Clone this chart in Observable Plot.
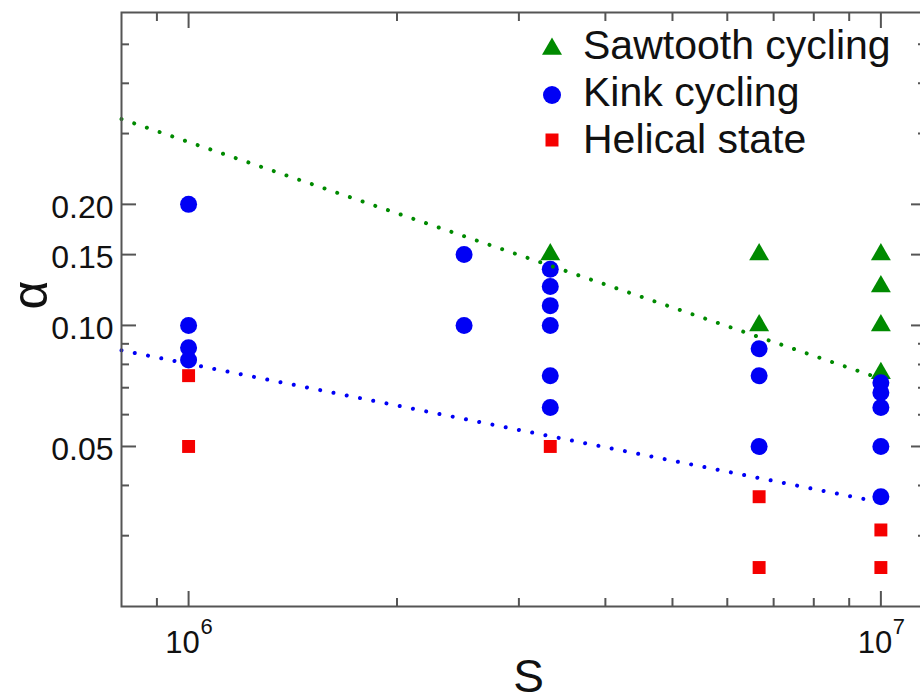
<!DOCTYPE html>
<html>
<head>
<meta charset="utf-8">
<script src="https://cdn.jsdelivr.net/npm/d3@7"></script>
<script src="https://cdn.jsdelivr.net/npm/@observablehq/plot@0.6"></script>
<style>
  html, body { margin: 0; padding: 0; background: #fff; overflow: hidden; }
  #wrap { position: relative; width: 920px; height: 700px; overflow: hidden; }
  #wrap svg { max-width: none !important; }
  #legend { position: absolute; left: 0; top: 0; }
</style>
</head>
<body>
<div id="wrap"></div>
<script>
// ---- data ----
const sawtoothS = [3.33e6, 6.67e6, 6.67e6, 1e7, 1e7, 1e7, 1e7];
const sawtoothA = [0.15, 0.15, 0.10, 0.15, 0.125, 0.10, 0.076];

const kinkS = [1e6, 1e6, 1e6, 1e6,
               2.5e6, 2.5e6,
               3.33e6, 3.33e6, 3.33e6, 3.33e6, 3.33e6, 3.33e6,
               6.67e6, 6.67e6, 6.67e6,
               1e7, 1e7, 1e7, 1e7, 1e7];
const kinkA = [0.20, 0.10, 0.088, 0.082,
               0.15, 0.10,
               0.138, 0.125, 0.112, 0.10, 0.075, 0.0625,
               0.0875, 0.075, 0.05,
               0.072, 0.068, 0.0625, 0.05, 0.0375];

const helicalS = [1e6, 1e6, 3.33e6, 6.67e6, 6.67e6, 1e7, 1e7];
const helicalA = [0.075, 0.05, 0.05, 0.0375, 0.025, 0.031, 0.025];

const fitS = [8e5, 1e7];
const sawtoothFit = [0.326, 0.0737];
const kinkFit = [0.0867, 0.0363];

const xMajor = [1e6, 1e7];
const xMinor = [9e5, 2e6, 3e6, 4e6, 5e6, 6e6, 7e6, 8e6, 9e6];
const yMajor = [0.05, 0.10, 0.15, 0.20];
const yMinor = [0.03, 0.04, 0.06, 0.07, 0.08, 0.09, 0.3, 0.4, 0.5];

const legendLabels = ["Sawtooth cycling", "Kink cycling", "Helical state"];
const colors = {saw: "#008a00", kink: "#0000f5", hel: "#f50000"};

// ---- chart ----
const axisStroke = "#555";
const tickOpts = {stroke: axisStroke, strokeWidth: 2, text: null, label: null};

const chart = Plot.plot({
  width: 930,
  height: 700,
  marginLeft: 121,
  marginRight: 5,
  marginTop: 12,
  marginBottom: 94,
  style: {fontFamily: "'Liberation Sans', Arial, sans-serif", color: "#111", background: "#fff", maxWidth: "none"},
  x: {type: "log", domain: [8e5, 1.16e7]},
  y: {type: "log", domain: [0.02, 0.6]},
  marks: [
    // inward ticks on all four sides
    Plot.axisX({...tickOpts, anchor: "bottom", ticks: xMajor, tickSize: -15}),
    Plot.axisX({...tickOpts, anchor: "bottom", ticks: xMinor, tickSize: -8}),
    Plot.axisX({...tickOpts, anchor: "top", ticks: xMajor, tickSize: -15}),
    Plot.axisX({...tickOpts, anchor: "top", ticks: xMinor, tickSize: -8}),
    Plot.axisY({...tickOpts, anchor: "left", ticks: yMajor, tickSize: -15}),
    Plot.axisY({...tickOpts, anchor: "left", ticks: yMinor, tickSize: -8}),
    Plot.axisY({...tickOpts, anchor: "right", ticks: yMajor, tickSize: -15}),
    Plot.axisY({...tickOpts, anchor: "right", ticks: yMinor, tickSize: -8}),
    // y tick labels
    Plot.axisY({anchor: "left", ticks: yMajor, tickSize: 0, tickPadding: 8,
                tickFormat: d3.format(".2f"), fontSize: 32, label: null, dy: 3}),
    // x tick labels 10^n
    Plot.text(xMajor, {x: d => d, frameAnchor: "bottom", text: () => "10",
                       dx: -6, dy: 46, lineAnchor: "bottom", fontSize: 31}),
    Plot.text(xMajor, {x: d => d, frameAnchor: "bottom", text: d => String(Math.round(Math.log10(d))),
                       dx: 18, dy: 27, lineAnchor: "bottom", fontSize: 22}),
    // axis labels
    Plot.text(["S"], {frameAnchor: "bottom", text: d => d, dx: 5, dy: 85, lineAnchor: "bottom", fontSize: 46}),
    Plot.text(["α"], {frameAnchor: "left", text: d => d, rotate: -90, dx: -91, fontSize: 50, lineAnchor: "middle"}),
    // data
    Plot.dot(sawtoothS, {x: sawtoothS, y: sawtoothA, symbol: "triangle", r: 7.4, fill: colors.saw}),
    Plot.dot(kinkS, {x: kinkS, y: kinkA, symbol: "circle", r: 8.5, fill: colors.kink}),
    Plot.dot(helicalS, {x: helicalS, y: helicalA, symbol: "square", r: 7.3, fill: colors.hel}),
    // fits
    Plot.line(fitS, {x: fitS, y: sawtoothFit, stroke: colors.saw, strokeWidth: 4,
                     strokeDasharray: "0.01 13.4", strokeLinecap: "round"}),
    Plot.line(fitS, {x: fitS, y: kinkFit, stroke: colors.kink, strokeWidth: 4,
                     strokeDasharray: "0.01 13.5", strokeLinecap: "round"}),
    Plot.frame({stroke: axisStroke, strokeWidth: 2})
  ]
});

const wrap = document.getElementById("wrap");
wrap.appendChild(chart);

// ---- legend overlay ----
const ns = "http://www.w3.org/2000/svg";
const leg = document.createElementNS(ns, "svg");
leg.setAttribute("id", "legend");
leg.setAttribute("width", 920);
leg.setAttribute("height", 170);
leg.style.fontFamily = "'Liberation Sans', Arial, sans-serif";
const symbols = [
  `<path d="${d3.symbol(d3.symbolTriangle, 173)()}" transform="translate(552,49)" fill="${colors.saw}"/>`,
  `<circle cx="552" cy="95" r="9" fill="${colors.kink}"/>`,
  `<path d="${d3.symbol(d3.symbolSquare, 169)()}" transform="translate(552,140)" fill="${colors.hel}"/>`
];
const baselines = [59, 106, 153];
leg.innerHTML = symbols.join("") + legendLabels.map((t, i) =>
  `<text x="583" y="${baselines[i]}" font-size="41" fill="#111">${t}</text>`).join("");
wrap.appendChild(leg);
</script>
</body>
</html>
